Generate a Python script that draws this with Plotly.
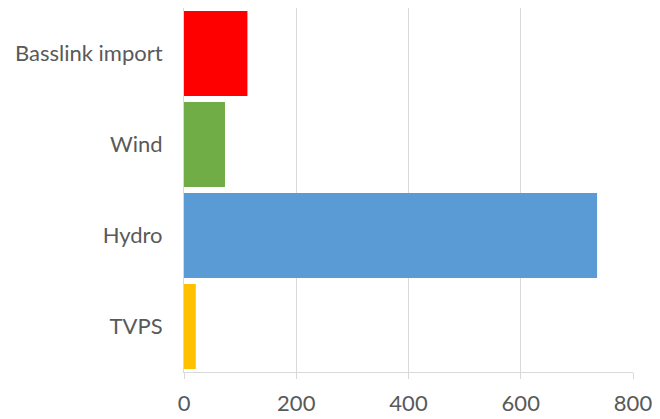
import plotly.graph_objects as go

categories = ["TVPS", "Hydro", "Wind", "Basslink import"]
values = [21, 736, 73, 113]
colors = ["#FFC000", "#5B9BD5", "#70AD47", "#FF0000"]
x_ticks = [0, 200, 400, 600, 800]

fig = go.Figure(go.Bar(
    y=categories, x=values, orientation="h",
    marker=dict(color=colors, line=dict(width=0)),
))
fig.update_layout(
    width=652, height=411,
    margin=dict(l=176, r=27, t=0, b=47),
    paper_bgcolor="white", plot_bgcolor="white",
    bargap=0.066, showlegend=False,
    font=dict(family="Lato, Open Sans, sans-serif", size=22, color="#595959"),
)
fig.update_xaxes(
    range=[0, 800], tickvals=x_ticks, showgrid=True, gridcolor="#D9D9D9", gridwidth=1,
    zeroline=False, showline=True, linecolor="#D9D9D9", linewidth=1,
    ticks="outside", ticklen=6, tickcolor="#D9D9D9", automargin=False,
    ticklabelstandoff=6,
)
fig.update_yaxes(
    showgrid=False, showline=True, linecolor="#D9D9D9", linewidth=1,
    ticks="", ticklabelstandoff=16, automargin=False,
)
fig.write_html("out.html")
